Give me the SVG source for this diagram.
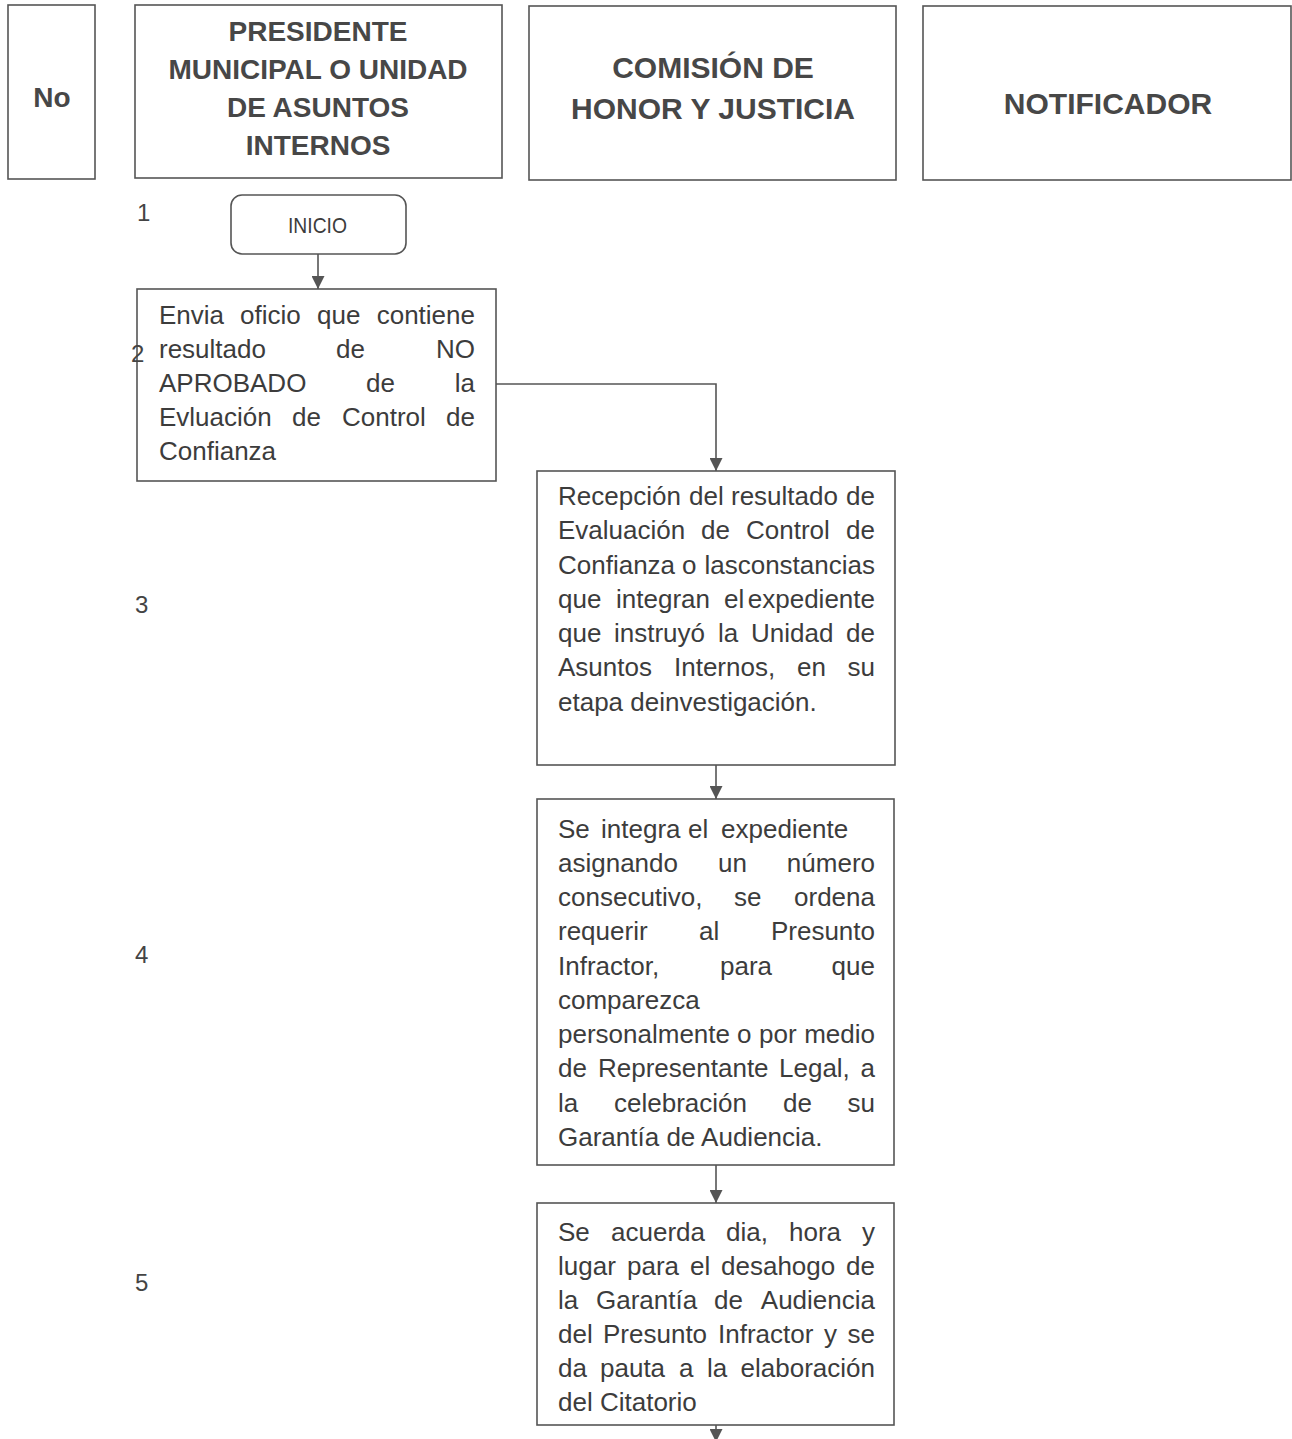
<svg xmlns="http://www.w3.org/2000/svg" width="1292" height="1439" viewBox="0 0 1292 1439">
<defs>
<style>
.box{fill:#fff;stroke:#555;stroke-width:1.6}
.hd{font-family:"Liberation Sans",Arial,sans-serif;font-weight:bold;fill:#474747;text-anchor:middle}
.tx{font-family:"Liberation Sans",Arial,sans-serif;font-size:26px;fill:#3c3c3c}
.num{font-family:"Liberation Sans",Arial,sans-serif;font-size:24px;fill:#444}
.e{text-anchor:end}
.conn{fill:none;stroke:#555;stroke-width:1.6}
</style>
<marker id="arr" markerUnits="userSpaceOnUse" markerWidth="14" markerHeight="13" refX="13" refY="6.5" orient="auto">
<path d="M0,0 L13,6.5 L0,13 z" fill="#555"/>
</marker>
</defs>
<rect width="1292" height="1439" fill="#fff"/>

<g id="header-no">
<rect class="box" x="8" y="5" width="87" height="174"/>
<text class="hd" x="52" y="107" font-size="28">No</text>
</g>
<g id="header-presidente">
<rect class="box" x="135" y="5" width="367" height="173"/>
<text class="hd" font-size="28"><tspan x="318" y="41">PRESIDENTE</tspan><tspan x="318" y="79">MUNICIPAL O UNIDAD</tspan><tspan x="318" y="117">DE ASUNTOS</tspan><tspan x="318" y="155">INTERNOS</tspan></text>
</g>
<g id="header-comision">
<rect class="box" x="529" y="6" width="367" height="174"/>
<text class="hd" font-size="30"><tspan x="713" y="78">COMISIÓN DE</tspan><tspan x="713" y="119">HONOR Y JUSTICIA</tspan></text>
</g>
<g id="header-notificador">
<rect class="box" x="923" y="6" width="368" height="174"/>
<text class="hd" x="1108" y="114" font-size="30">NOTIFICADOR</text>
</g>

<g id="connectors">
<path class="conn" d="M318,254 V289" marker-end="url(#arr)"/>
<path class="conn" d="M496,384 H716 V471" marker-end="url(#arr)"/>
<path class="conn" d="M716,765 V799" marker-end="url(#arr)"/>
<path class="conn" d="M716,1165 V1203" marker-end="url(#arr)"/>
<path class="conn" d="M716,1425 V1442" marker-end="url(#arr)"/>
</g>

<g id="node-inicio">
<rect class="box" x="231" y="195" width="175" height="59" rx="11"/>
<text x="288" y="233" font-family="'Liberation Sans',Arial,sans-serif" font-size="22" fill="#3c3c3c" textLength="59" lengthAdjust="spacingAndGlyphs">INICIO</text>
</g>

<g id="node-2">
<rect class="box" x="137" y="289" width="359" height="192"/>
<text class="tx"><tspan x="159" y="324">Envia</tspan><tspan x="240" y="324">oficio</tspan><tspan x="317" y="324">que</tspan><tspan class="e" x="475" y="324">contiene</tspan></text>
<text class="tx"><tspan x="159" y="358">resultado</tspan><tspan x="336" y="358">de</tspan><tspan class="e" x="475" y="358">NO</tspan></text>
<text class="tx"><tspan x="159" y="392">APROBADO</tspan><tspan x="366" y="392">de</tspan><tspan class="e" x="475" y="392">la</tspan></text>
<text class="tx"><tspan x="159" y="426">Evluación</tspan><tspan x="292" y="426">de</tspan><tspan x="342" y="426">Control</tspan><tspan class="e" x="475" y="426">de</tspan></text>
<text class="tx" x="159" y="460">Confianza</text>
</g>

<g id="node-3">
<rect class="box" x="537" y="471" width="358" height="294"/>
<text class="tx"><tspan x="558" y="505">Recepción</tspan><tspan x="689" y="505">del</tspan><tspan x="731" y="505">resultado</tspan><tspan class="e" x="875" y="505">de</tspan></text>
<text class="tx"><tspan x="558" y="539">Evaluación</tspan><tspan x="701" y="539">de</tspan><tspan x="746" y="539">Control</tspan><tspan class="e" x="875" y="539">de</tspan></text>
<text class="tx"><tspan x="558" y="574">Confianza</tspan><tspan x="682" y="574">o</tspan><tspan class="e" x="875" y="574">lasconstancias</tspan></text>
<text class="tx"><tspan x="558" y="608">que</tspan><tspan x="616" y="608">integran</tspan><tspan x="724" y="608">el</tspan><tspan class="e" x="875" y="608">expediente</tspan></text>
<text class="tx"><tspan x="558" y="642">que</tspan><tspan x="614" y="642">instruyó</tspan><tspan x="718" y="642">la</tspan><tspan x="751" y="642">Unidad</tspan><tspan class="e" x="875" y="642">de</tspan></text>
<text class="tx"><tspan x="558" y="676">Asuntos</tspan><tspan x="674" y="676">Internos,</tspan><tspan x="797" y="676">en</tspan><tspan class="e" x="875" y="676">su</tspan></text>
<text class="tx" x="558" y="711">etapa deinvestigación.</text>
</g>

<g id="node-4">
<rect class="box" x="537" y="799" width="357" height="366"/>
<text class="tx"><tspan x="558" y="838">Se</tspan><tspan x="601" y="838">integra</tspan><tspan x="688" y="838">el</tspan><tspan x="721" y="838">expediente</tspan></text>
<text class="tx"><tspan x="558" y="872">asignando</tspan><tspan x="718" y="872">un</tspan><tspan class="e" x="875" y="872">número</tspan></text>
<text class="tx"><tspan x="558" y="906">consecutivo,</tspan><tspan x="734" y="906">se</tspan><tspan class="e" x="875" y="906">ordena</tspan></text>
<text class="tx"><tspan x="558" y="940">requerir</tspan><tspan x="699" y="940">al</tspan><tspan class="e" x="875" y="940">Presunto</tspan></text>
<text class="tx"><tspan x="558" y="975">Infractor,</tspan><tspan x="720" y="975">para</tspan><tspan class="e" x="875" y="975">que</tspan></text>
<text class="tx" x="558" y="1009">comparezca</text>
<text class="tx"><tspan x="558" y="1043">personalmente</tspan><tspan x="737" y="1043">o</tspan><tspan x="759" y="1043">por</tspan><tspan class="e" x="875" y="1043">medio</tspan></text>
<text class="tx"><tspan x="558" y="1077">de</tspan><tspan x="598" y="1077">Representante</tspan><tspan x="779" y="1077">Legal,</tspan><tspan class="e" x="875" y="1077">a</tspan></text>
<text class="tx"><tspan x="558" y="1112">la</tspan><tspan x="614" y="1112">celebración</tspan><tspan x="783" y="1112">de</tspan><tspan class="e" x="875" y="1112">su</tspan></text>
<text class="tx" x="558" y="1146">Garantía de Audiencia.</text>
</g>

<g id="node-5">
<rect class="box" x="537" y="1203" width="357" height="222"/>
<text class="tx"><tspan x="558" y="1241">Se</tspan><tspan x="611" y="1241">acuerda</tspan><tspan x="726" y="1241">dia,</tspan><tspan x="789" y="1241">hora</tspan><tspan class="e" x="875" y="1241">y</tspan></text>
<text class="tx"><tspan x="558" y="1275">lugar</tspan><tspan x="627" y="1275">para</tspan><tspan x="690" y="1275">el</tspan><tspan x="721" y="1275">desahogo</tspan><tspan class="e" x="875" y="1275">de</tspan></text>
<text class="tx"><tspan x="558" y="1309">la</tspan><tspan x="596" y="1309">Garantía</tspan><tspan x="714" y="1309">de</tspan><tspan class="e" x="875" y="1309">Audiencia</tspan></text>
<text class="tx"><tspan x="558" y="1343">del</tspan><tspan x="603" y="1343">Presunto</tspan><tspan x="718" y="1343">Infractor</tspan><tspan x="824" y="1343">y</tspan><tspan class="e" x="875" y="1343">se</tspan></text>
<text class="tx"><tspan x="558" y="1377">da</tspan><tspan x="600" y="1377">pauta</tspan><tspan x="679" y="1377">a</tspan><tspan x="707" y="1377">la</tspan><tspan class="e" x="875" y="1377">elaboración</tspan></text>
<text class="tx" x="558" y="1411">del Citatorio</text>
</g>

<g id="numbers">
<text class="num" x="137" y="221">1</text>
<text class="num" x="131" y="362">2</text>
<text class="num" x="135" y="613">3</text>
<text class="num" x="135" y="963">4</text>
<text class="num" x="135" y="1291">5</text>
</g>
</svg>
